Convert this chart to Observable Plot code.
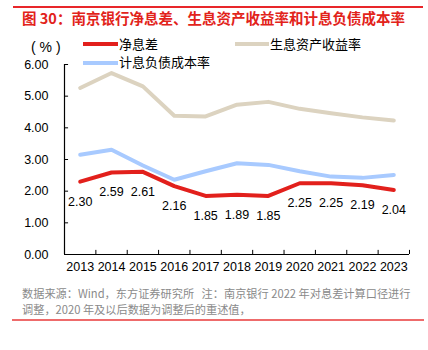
<!DOCTYPE html>
<html><head><meta charset="utf-8">
<script src="https://cdn.jsdelivr.net/npm/d3@7"></script>
<script src="https://cdn.jsdelivr.net/npm/@observablehq/plot@0.6"></script>
<style>
body{margin:0;background:#fff;font-family:"Liberation Sans",Arial,"Noto Sans CJK SC",sans-serif;}
#wrap{position:relative;width:428px;height:350px;overflow:hidden;}
.abs{position:absolute;white-space:nowrap;}
#chart{position:absolute;left:0;top:0;}
.ln{position:absolute;height:4px;}
.lt{position:absolute;white-space:nowrap;font-size:13px;line-height:18px;font-family:'Noto Sans CJK SC',sans-serif;color:#000;}
</style></head>
<body>
<div id="wrap">
  <div id="chart"></div>
  <div class="abs" style="left:13px;top:6px;width:410px;height:1.5px;background:#e8262a;"></div>
  <div class="abs" style="left:22px;top:9px;font-size:14.5px;line-height:18px;font-weight:bold;color:#e2231a;font-family:'Noto Sans CJK SC',sans-serif;">图 30：南京银行净息差、生息资产收益率和计息负债成本率</div>
  <div class="abs" style="left:31px;top:38px;font-size:14px;line-height:18px;color:#000;font-family:'Liberation Sans',Arial,sans-serif;">(&nbsp;%&nbsp;)</div>
  <div class="ln" id="lg1" style="left:83px;top:42px;width:35px;"></div>
  <div class="lt" id="lt1" style="left:119px;top:35px;"></div>
  <div class="ln" id="lg2" style="left:235px;top:42px;width:34px;"></div>
  <div class="lt" id="lt2" style="left:270px;top:35px;"></div>
  <div class="ln" id="lg3" style="left:83px;top:61px;width:35px;"></div>
  <div class="lt" id="lt3" style="left:119px;top:53px;"></div>
  <div class="abs" style="left:22px;top:285px;font-size:11.2px;line-height:16px;color:#8a8a8a;font-family:'Noto Sans CJK SC',sans-serif;">数据来源：Wind，东方证券研究所&nbsp;&nbsp;&nbsp;注：南京银行 2022 年对息差计算口径进行<br>调整，2020 年及以后数据为调整后的重述值，</div>
  <div class="abs" style="left:12px;top:319px;width:412px;height:1.5px;background:#ee6b6b;"></div>
</div>
<script>
const years = [2013, 2014, 2015, 2016, 2017, 2018, 2019, 2020, 2021, 2022, 2023];
const seriesNames = ["净息差", "生息资产收益率", "计息负债成本率"];
const seriesColors = ["#e2201c", "#dcd3c0", "#a8caff"];
const netInterestMargin = [2.30, 2.59, 2.61, 2.16, 1.85, 1.89, 1.85, 2.25, 2.25, 2.19, 2.04];
const assetYield = [5.26, 5.73, 5.31, 4.38, 4.36, 4.73, 4.82, 4.60, 4.46, 4.33, 4.23];
const liabilityCost = [3.15, 3.31, 2.81, 2.36, 2.63, 2.88, 2.83, 2.63, 2.46, 2.42, 2.51];
const yTicks = [0, 1, 2, 3, 4, 5, 6];

const toRows = (vals) => years.map((y, i) => ({year: y, v: vals[i]}));
const nimRows = toRows(netInterestMargin);
const yieldRows = toRows(assetYield);
const costRows = toRows(liabilityCost);
const boundaries = d3.range(years.length + 1).map(i => years[0] - 0.5 + i);

[1,2,3].forEach(i => {
  document.getElementById("lg" + i).style.background = seriesColors[i-1];
  document.getElementById("lt" + i).textContent = seriesNames[i-1];
});

const chart = Plot.plot({
  width: 428,
  height: 350,
  marginTop: 64,
  marginBottom: 96,
  marginLeft: 64,
  marginRight: 19,
  style: {fontFamily: "'Liberation Sans', Arial, sans-serif", fontSize: "12.5px", color: "#000", background: "transparent"},
  x: {domain: [years[0] - 0.5, years[years.length - 1] + 0.5]},
  y: {domain: [0, 6]},
  marks: [
    Plot.axisY({ticks: yTicks, tickFormat: d => d.toFixed(2), tickSize: 0, tickPadding: 16, label: null, fontSize: 12.5}),
    Plot.ruleY(yTicks, {y: d => d, x1: years[0] - 0.5, x2: years[0] - 0.37, stroke: "#000"}),
    Plot.axisX({ticks: years, tickFormat: d => String(d), tickSize: 0, tickPadding: 8, label: null, fontSize: 12.5}),
    Plot.ruleX(boundaries, {x: d => d, y1: 0, y2: 0.13, stroke: "#000"}),
    Plot.ruleX([years[0] - 0.5], {stroke: "#000", strokeWidth: 1.2}),
    Plot.ruleY([0], {stroke: "#000", strokeWidth: 1.2}),
    Plot.line(yieldRows, {x: "year", y: "v", stroke: seriesColors[1], strokeWidth: 4}),
    Plot.line(costRows, {x: "year", y: "v", stroke: seriesColors[2], strokeWidth: 4}),
    Plot.line(nimRows, {x: "year", y: "v", stroke: seriesColors[0], strokeWidth: 4}),
    Plot.text(nimRows, {x: "year", y: "v", text: d => d.v.toFixed(2), dy: 20, fill: "#000", fontSize: 12.5})
  ]
});
document.getElementById("chart").appendChild(chart);
</script>
</body></html>
